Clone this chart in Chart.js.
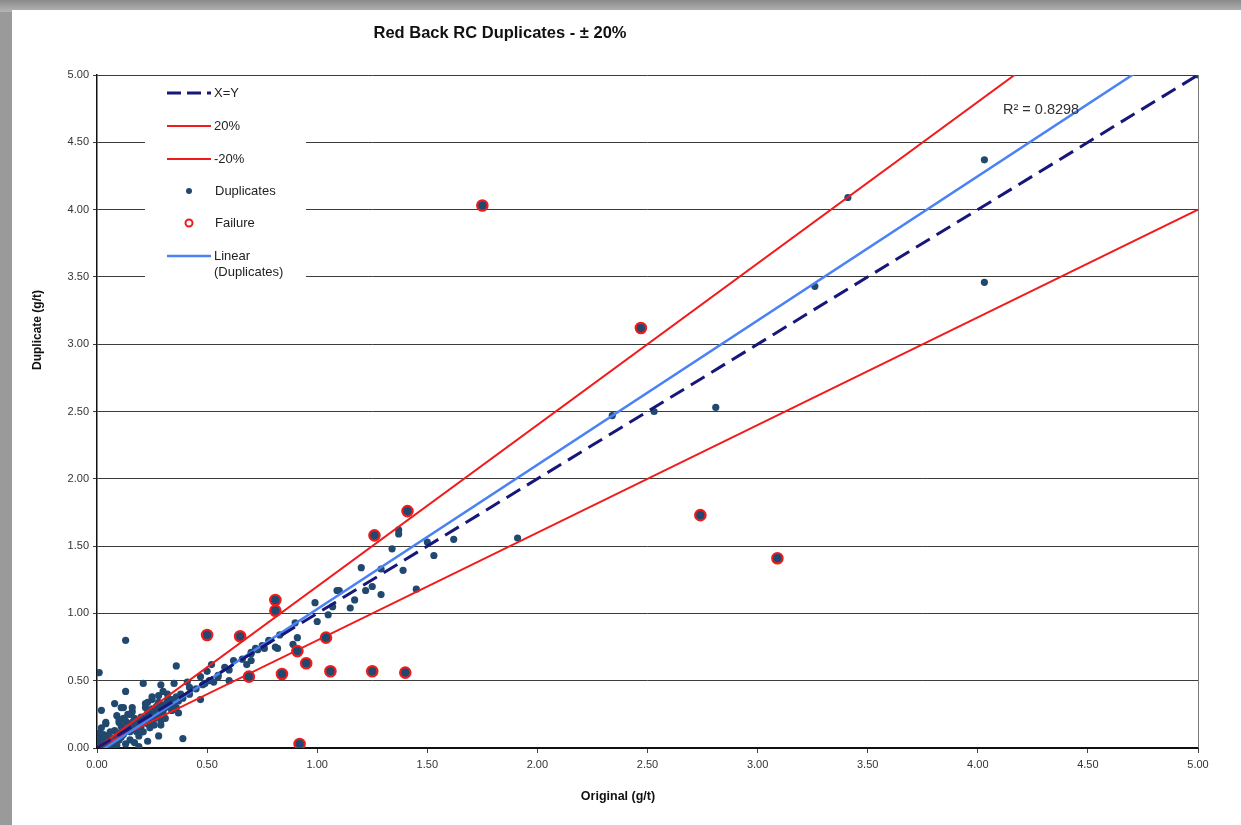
<!DOCTYPE html>
<html>
<head>
<meta charset="utf-8">
<title>Red Back RC Duplicates</title>
<script src="https://cdn.jsdelivr.net/npm/chart.js@4.4.0/dist/chart.umd.min.js"></script>
<style>
  html, body { margin: 0; padding: 0; background: #9a9a9a; }
  #wrap { width: 1241px; height: 825px; position: relative; }
</style>
</head>
<body>
<div id="wrap"><canvas id="dupChart" width="1241" height="825"></canvas></div>
<script>
// tick values for both axes
const tickValues = [0, 0.5, 1, 1.5, 2, 2.5, 3, 3.5, 4, 4.5, 5];

// passing duplicates (original, duplicate) in g/t
const dupX = [
  0.00, 0.01, 0.02, 0.01, 0.03, 0.02, 0.04, 0.05, 0.03, 0.06, 0.05, 0.07, 0.08, 0.06, 0.09, 0.08, 0.10, 0.02, 0.04, 0.01,
  0.03, 0.00, 0.00, 0.02, 0.05, 0.07, 0.09, 0.10, 0.11, 0.12,
  0.11, 0.12, 0.13, 0.14, 0.13, 0.15, 0.15, 0.16, 0.17, 0.17, 0.18, 0.19, 0.18, 0.20, 0.20, 0.14, 0.12, 0.16, 0.19, 0.15,
  0.13, 0.17, 0.10, 0.09, 0.11,
  0.21, 0.22, 0.23, 0.23, 0.24, 0.25, 0.25, 0.26, 0.27, 0.27, 0.28, 0.29, 0.28, 0.30, 0.30, 0.22, 0.24, 0.26, 0.21, 0.29,
  0.25, 0.23,
  0.31, 0.32, 0.33, 0.34, 0.35, 0.36, 0.37, 0.38, 0.36, 0.39, 0.32, 0.34,
  0.13, 0.01, 0.36, 0.52, 0.50, 0.21, 0.13, 0.35, 0.41, 0.29, 0.30, 0.28, 0.25, 0.08, 0.22, 0.12, 0.16, 0.02, 0.37, 0.15,
  0.10, 0.04, 0.29, 0.31, 0.34, 0.39, 0.28, 0.23, 0.19, 0.03, 0.47, 0.49, 0.55, 0.53, 0.47, 0.42, 0.33, 0.26,
  0.42, 0.45, 0.48, 0.51, 0.55, 0.58, 0.60, 0.62, 0.66, 0.70, 0.72, 0.75, 0.78, 0.60,
  0.90, 0.91, 0.89, 0.81, 0.83, 0.76, 0.73, 0.70, 0.68, 0.70, 0.82, 0.99, 1.07, 1.05, 1.00, 1.09, 1.10, 1.17, 1.15, 1.20,
  1.29, 1.39, 1.25, 1.22, 1.29, 1.45, 1.37, 1.37, 1.34, 1.50, 1.53, 1.62, 1.91, 2.34, 2.53, 2.81, 3.26, 3.41, 4.03, 4.03,
  5.00
];
const dupY = [
  0.00, 0.02, 0.01, 0.05, 0.03, 0.08, 0.02, 0.05, 0.10, 0.03, 0.09, 0.07, 0.04, 0.12, 0.09, 0.13, 0.06, 0.15, 0.18, 0.11,
  0.07, 0.04, 0.08, 0.00, 0.00, 0.01, 0.02, 0.11, 0.08, 0.14,
  0.16, 0.10, 0.13, 0.17, 0.20, 0.12, 0.15, 0.19, 0.14, 0.22, 0.17, 0.20, 0.12, 0.16, 0.23, 0.25, 0.22, 0.27, 0.09, 0.06,
  0.03, 0.04, 0.19, 0.24, 0.30,
  0.19, 0.22, 0.18, 0.26, 0.21, 0.25, 0.29, 0.22, 0.27, 0.31, 0.24, 0.29, 0.34, 0.27, 0.32, 0.30, 0.15, 0.17, 0.12, 0.20,
  0.36, 0.34,
  0.30, 0.35, 0.31, 0.36, 0.33, 0.38, 0.35, 0.40, 0.30, 0.37, 0.40, 0.28,
  0.80, 0.56, 0.61, 0.62, 0.57, 0.48, 0.42, 0.48, 0.49, 0.47, 0.42, 0.39, 0.38, 0.33, 0.33, 0.30, 0.30, 0.28, 0.26, 0.25,
  0.21, 0.19, 0.17, 0.22, 0.28, 0.07, 0.09, 0.05, 0.01, 0.07, 0.53, 0.48, 0.53, 0.49, 0.36, 0.45, 0.36, 0.22,
  0.40, 0.44, 0.47, 0.50, 0.54, 0.60, 0.58, 0.65, 0.66, 0.70, 0.74, 0.76, 0.80, 0.50,
  0.93, 0.82, 0.77, 0.75, 0.84, 0.74, 0.73, 0.65, 0.62, 0.71, 0.74, 1.08, 1.05, 0.99, 0.94, 1.17, 1.17, 1.10, 1.04, 1.34,
  1.33, 1.32, 1.20, 1.17, 1.14, 1.18, 1.62, 1.59, 1.48, 1.53, 1.43, 1.55, 1.56, 2.47, 2.50, 2.53, 3.43, 4.09, 4.37, 3.46,
  5.00
];

// duplicates outside the +/-20% band
const failX = [0.50, 0.65, 0.81, 0.81, 1.04, 0.91, 0.95, 0.69, 0.84, 1.06, 1.25, 1.40, 0.92, 1.26, 1.41, 1.75, 2.47, 2.74, 3.09];
const failY = [0.84, 0.83, 1.10, 1.02, 0.82, 0.72, 0.63, 0.53, 0.55, 0.57, 0.57, 0.56, 0.03, 1.58, 1.76, 4.03, 3.12, 1.73, 1.41];

// reference lines, end points at x = 0 and x = 5
const lineX = [0, 5];
const xyY = [0, 5];
const plus20Y = [0, 6];
const minus20Y = [0, 4];
const fitY = [-0.04, 5.32];
const rSquared = '0.8298';

const dotColor = '#21496f';
const redColor = '#f21b1b';
const navyColor = '#17177a';
const blueColor = '#4a82f5';

function pts(xs, ys) {
  return xs.map((x, i) => ({ x: x, y: ys[i] }));
}

const fontFamily = '"Liberation Sans", Arial, sans-serif';

// grey frame, legend box and extra text
const framePlugin = {
  id: 'frame',
  beforeDraw(chart) {
    const ctx = chart.ctx;
    ctx.save();
    ctx.fillStyle = '#9a9a9a';
    ctx.fillRect(0, 0, chart.width, chart.height);
    const grad = ctx.createLinearGradient(0, 0, 0, 12);
    grad.addColorStop(0, '#8a8a8a');
    grad.addColorStop(1, '#b5b5b5');
    ctx.fillStyle = grad;
    ctx.fillRect(0, 0, chart.width, 12);
    ctx.fillStyle = '#ffffff';
    ctx.fillRect(12, 10, chart.width - 12, chart.height - 10);
    ctx.restore();
  },
  afterDraw(chart) {
    const ctx = chart.ctx;
    const area = chart.chartArea;
    ctx.save();

    // right border of plot area
    ctx.strokeStyle = '#7a7a7a';
    ctx.lineWidth = 1;
    ctx.beginPath();
    ctx.moveTo(area.right + 0.5, area.top);
    ctx.lineTo(area.right + 0.5, area.bottom);
    ctx.stroke();

    // title
    ctx.fillStyle = '#111';
    ctx.font = 'bold 16.5px ' + fontFamily;
    ctx.textAlign = 'center';
    ctx.textBaseline = 'middle';
    ctx.fillText('Red Back RC Duplicates - \u00b1 20%', 500, 33);

    // axis titles
    ctx.font = 'bold 12.5px ' + fontFamily;
    ctx.fillText('Original (g/t)', 618, 797);
    ctx.save();
    ctx.translate(38, 330);
    ctx.rotate(-Math.PI / 2);
    ctx.font = 'bold 12px ' + fontFamily;
    ctx.fillText('Duplicate (g/t)', 0, 0);
    ctx.restore();

    // R squared label
    ctx.font = '14.5px ' + fontFamily;
    ctx.fillStyle = '#333';
    ctx.textAlign = 'left';
    ctx.fillText('R\u00b2 = ' + rSquared, 1003, 110);

    // legend
    ctx.fillStyle = '#ffffff';
    ctx.fillRect(145, 80, 161, 206);
    const lx0 = 167, lx1 = 211, tx = 214;
    ctx.font = '13px ' + fontFamily;
    ctx.fillStyle = '#222';

    ctx.setLineDash([14, 6]);
    ctx.strokeStyle = navyColor;
    ctx.lineWidth = 3;
    ctx.beginPath(); ctx.moveTo(lx0, 93); ctx.lineTo(lx1, 93); ctx.stroke();
    ctx.setLineDash([]);
    ctx.fillText('X=Y', tx, 93);

    ctx.strokeStyle = redColor;
    ctx.lineWidth = 2;
    ctx.beginPath(); ctx.moveTo(lx0, 126); ctx.lineTo(lx1, 126); ctx.stroke();
    ctx.fillText('20%', tx, 126);

    ctx.beginPath(); ctx.moveTo(lx0, 159); ctx.lineTo(lx1, 159); ctx.stroke();
    ctx.fillText('-20%', tx, 159);

    ctx.fillStyle = dotColor;
    ctx.beginPath(); ctx.arc(189, 191, 3, 0, Math.PI * 2); ctx.fill();
    ctx.fillStyle = '#222';
    ctx.fillText('Duplicates', 215, 191);

    ctx.strokeStyle = redColor;
    ctx.lineWidth = 2;
    ctx.beginPath(); ctx.arc(189, 223, 3.5, 0, Math.PI * 2); ctx.stroke();
    ctx.fillText('Failure', 215, 223);

    ctx.strokeStyle = blueColor;
    ctx.lineWidth = 2.5;
    ctx.beginPath(); ctx.moveTo(lx0, 256); ctx.lineTo(lx1, 256); ctx.stroke();
    ctx.fillText('Linear', tx, 256);
    ctx.fillText('(Duplicates)', tx, 272);

    ctx.restore();
  }
};

const ctx = document.getElementById('dupChart').getContext('2d');
const dupChart = new Chart(ctx, {
  type: 'scatter',
  data: {
    datasets: [
      {
        label: 'Failure',
        data: pts(failX, failY),
        pointRadius: 5.2,
        pointBackgroundColor: dotColor,
        pointBorderColor: redColor,
        pointBorderWidth: 2.2,
        showLine: false,
        order: 0
      },
      {
        label: 'X=Y',
        data: pts(lineX, xyY),
        showLine: true,
        borderColor: navyColor,
        borderWidth: 3,
        borderDash: [16, 8],
        pointRadius: 0,
        order: 1
      },
      {
        label: 'Linear (Duplicates)',
        data: pts(lineX, fitY),
        showLine: true,
        borderColor: blueColor,
        borderWidth: 2.5,
        pointRadius: 0,
        order: 2
      },
      {
        label: '20%',
        data: pts(lineX, plus20Y),
        showLine: true,
        borderColor: redColor,
        borderWidth: 2,
        pointRadius: 0,
        order: 3
      },
      {
        label: '-20%',
        data: pts(lineX, minus20Y),
        showLine: true,
        borderColor: redColor,
        borderWidth: 2,
        pointRadius: 0,
        order: 4
      },
      {
        label: 'Duplicates',
        data: pts(dupX, dupY),
        pointRadius: 3.6,
        pointBackgroundColor: dotColor,
        pointBorderWidth: 0,
        showLine: false,
        order: 5
      }
    ]
  },
  options: {
    responsive: false,
    animation: false,
    devicePixelRatio: 1,
    layout: {
      padding: { left: 0, top: 75, right: 43, bottom: 0 }
    },
    plugins: {
      legend: { display: false },
      title: { display: false },
      tooltip: { enabled: false }
    },
    scales: {
      x: {
        type: 'linear',
        min: 0,
        max: 5,
        afterBuildTicks: (scale) => { scale.ticks = tickValues.map(v => ({ value: v })); },
        afterFit: (scale) => { scale.height = 77; },
        ticks: {
          callback: (v) => Number(v).toFixed(2),
          color: '#333',
          font: { family: fontFamily, size: 11 },
          padding: 5,
          maxRotation: 0
        },
        grid: {
          drawOnChartArea: false,
          drawTicks: true,
          tickLength: 5,
          color: '#444'
        },
        border: { display: true, color: '#111', width: 2 }
      },
      y: {
        type: 'linear',
        min: 0,
        max: 5,
        afterBuildTicks: (scale) => { scale.ticks = tickValues.map(v => ({ value: v })); },
        afterFit: (scale) => { scale.width = 97; },
        ticks: {
          callback: (v) => Number(v).toFixed(2),
          color: '#333',
          font: { family: fontFamily, size: 11 },
          padding: 4
        },
        grid: {
          color: '#3c3c3c',
          lineWidth: 1,
          drawTicks: true,
          tickLength: 4
        },
        border: { display: true, color: '#111', width: 1.5 }
      }
    }
  },
  plugins: [framePlugin]
});
</script>
</body>
</html>
